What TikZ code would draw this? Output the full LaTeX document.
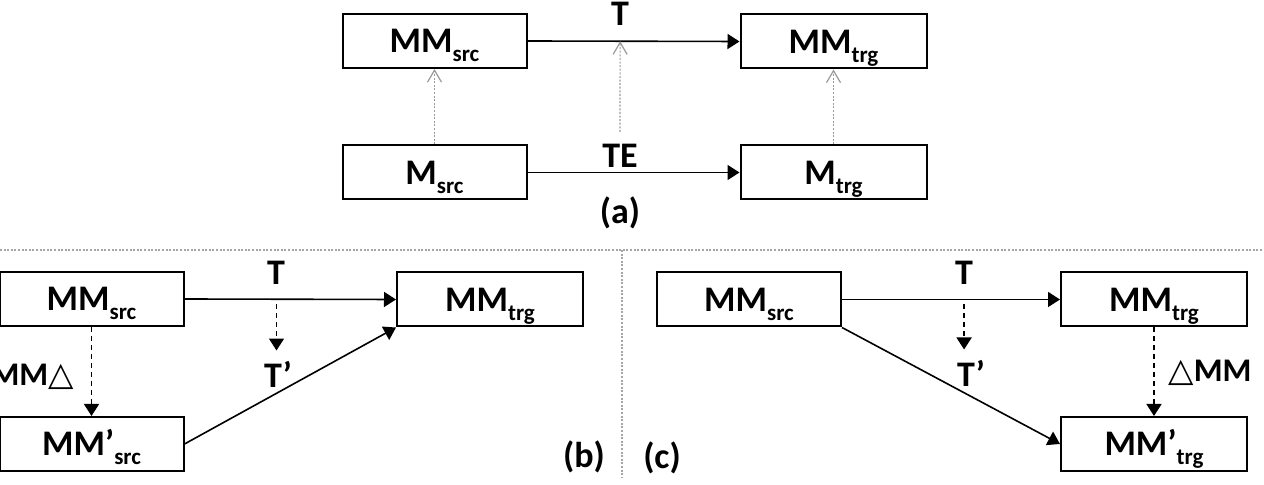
\documentclass[tikz,border=0pt]{standalone}
\usepackage{fontspec}
\setmainfont{Carlito}
\newfontfamily\trifont{DejaVu Sans}
\usepackage{tikz}
\usetikzlibrary{arrows.meta}
\newcommand{\subtxt}[1]{\raisebox{-4.5pt}{\fontsize{11.5}{12}\selectfont #1}}

\begin{document}
\begin{tikzpicture}[x=0.5pt,y=-0.5pt,>={Triangle[length=6pt,width=7.5pt]},
                    font=\fontsize{18}{21}\selectfont\bfseries]
  \tikzstyle{box}=[draw,line width=1pt,minimum height=27pt,inner sep=0pt,
                   text height=12pt,text depth=0pt]
  \tikzstyle{srcbox}=[box,minimum width=92pt]
  \tikzstyle{trgbox}=[box,minimum width=93pt]
  \tikzstyle{lbl}=[inner sep=0pt]
  \tikzstyle{dlbl}=[lbl,font=\fontsize{16.5}{19}\selectfont\bfseries]
  \tikzstyle{conf}=[->,line width=0.8pt]
  \tikzstyle{inst}=[-{Straight Barb[length=6pt,width=7pt]},black!40,
                    line width=0.6pt,dash pattern=on 1pt off 0.8pt]
  \tikzstyle{evo}=[->,line width=0.8pt,dash pattern=on 2.5pt off 2pt]
  \tikzstyle{divider}=[black!35,line width=0.6pt,dash pattern=on 1pt off 0.8pt]

  \useasboundingbox (0,0) rectangle (1264,485);

  % (a)
  \node[srcbox] (mmsrcA) at (434.5,41)   {MM\subtxt{src}};
  \node[trgbox] (mmtrgA) at (833.5,41.5) {MM\subtxt{trg}};
  \node[srcbox] (msrcA)  at (434.5,172.5) {M\subtxt{src}};
  \node[trgbox] (mtrgA)  at (833.5,172.5) {M\subtxt{trg}};

  \draw[conf] (mmsrcA.east) -- coordinate[pos=0.437] (tmidA) (mmtrgA.west);
  \draw[conf] (msrcA.east) -- (mtrgA.west);
  \node[lbl] (tA)  at (620,14)  {T};
  \node[lbl] (teA) at (620,156) {TE};
  \node[lbl] (capA) at (620,213) {(a)};

  \draw[inst] (msrcA) -- (mmsrcA);
  \draw[inst] (mtrgA) -- (mmtrgA);
  \draw[inst,shorten <=6pt] (teA.north) -- (tmidA);

  % dividers
  \coordinate (hl) at (0,250);
  \coordinate (hr) at (1264,250);
  \coordinate (vt) at (622,250);
  \coordinate (vb) at (622,478);
  \draw[divider] (hl) -- (hr);
  \draw[divider] (vt) -- (vb);

  % (b)
  \node[srcbox] (mmsrcB)  at (91.5,299)  {MM\subtxt{src}};
  \node[trgbox] (mmtrgB)  at (490,299.5) {MM\subtxt{trg}};
  \node[srcbox] (mmsrcpB) at (91.5,444)  {MM’\subtxt{src}};

  \draw[conf] (mmsrcB.east) -- coordinate[pos=0.435] (tmidB) (mmtrgB.west);
  \node[lbl] (tB)  at (276,273) {T};
  \node[lbl] (tpB) at (278,374) {T’};
  \draw[evo,shorten <=2.5pt,shorten >=5pt] (tmidB) -- (tmidB |- tpB.north);
  \draw[evo] (mmsrcB) -- (mmsrcpB);
  \node[dlbl,anchor=base east] (dmmB) at (74,386) {MM{\trifont △}};
  \draw[conf] (mmsrcpB.east) -- (mmtrgB.south west);
  \node[lbl] (capB) at (584,457) {(b)};

  % (c)
  \node[srcbox] (mmsrcC)  at (749,299.5)  {MM\subtxt{src}};
  \node[trgbox] (mmtrgC)  at (1154,299.5) {MM\subtxt{trg}};
  \node[trgbox] (mmtrgpC) at (1154,444)   {MM’\subtxt{trg}};

  \draw[conf] (mmsrcC.east) -- coordinate[pos=0.56] (tmidC) (mmtrgC.west);
  \node[lbl] (tC)  at (964,273) {T};
  \node[lbl] (tpC) at (971,373) {T’};
  \draw[evo,shorten <=2.5pt,shorten >=5pt] (tmidC) -- (tmidC |- tpC.north);
  \draw[evo] (mmtrgC) -- (mmtrgpC);
  \node[dlbl,anchor=base west] (dmmC) at (1168,382) {{\trifont △}MM};
  \draw[conf] (mmsrcC.south east) -- (mmtrgpC.west);
  \node[lbl] (capC) at (662,458) {(c)};

\end{tikzpicture}
\end{document}
